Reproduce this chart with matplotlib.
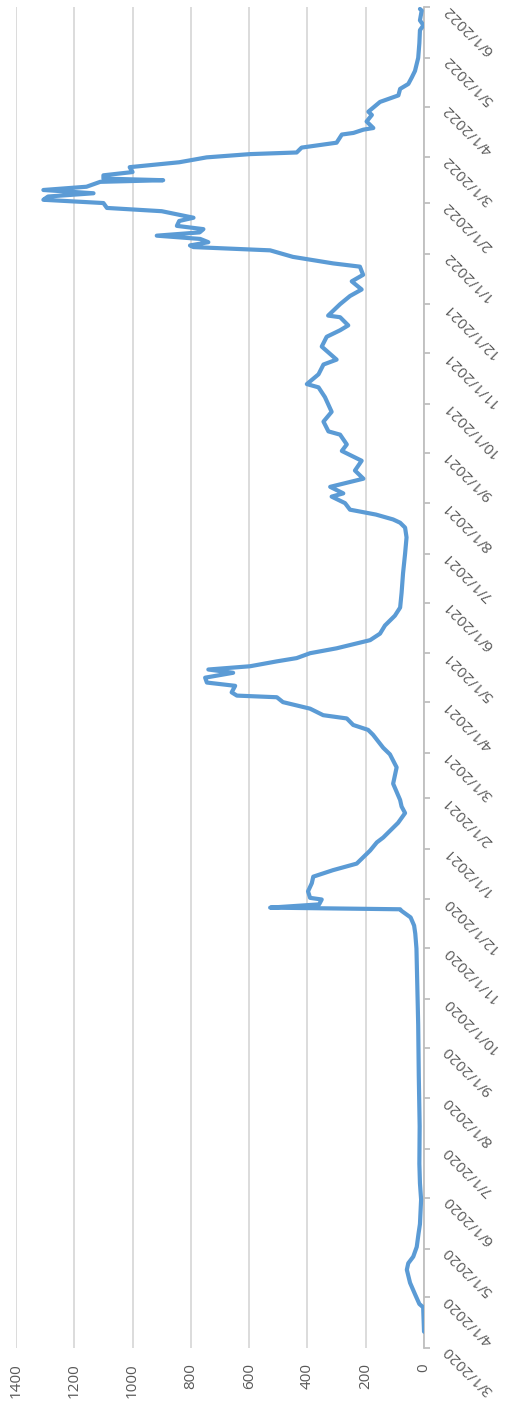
import matplotlib
matplotlib.use("Agg")
import matplotlib.pyplot as plt
import matplotlib.dates as mdates
from matplotlib.ticker import FuncFormatter
import pandas as pd

# Daily count series, read at the turning points of the curve
dates = [
    "2020-03-11", "2020-03-26", "2020-03-28", "2020-04-03", "2020-04-10", "2020-04-18",
    "2020-04-22", "2020-04-26", "2020-05-02", "2020-05-10", "2020-05-16", "2020-05-31",
    "2020-06-10", "2020-06-22", "2020-07-15", "2020-08-15", "2020-09-15", "2020-10-01",
    "2020-10-20", "2020-11-01", "2020-11-10", "2020-11-15", "2020-11-20", "2020-11-24",
    "2020-11-25", "2020-11-26", "2020-11-28", "2020-12-01", "2020-12-02", "2020-12-06",
    "2020-12-11", "2020-12-15", "2020-12-19", "2020-12-23", "2020-12-31",
    "2021-01-05", "2021-01-08", "2021-01-17", "2021-01-23", "2021-01-27", "2021-01-31",
    "2021-02-10", "2021-02-20", "2021-02-28", "2021-03-04", "2021-03-12", "2021-03-15",
    "2021-03-18", "2021-03-22", "2021-03-24", "2021-03-28", "2021-04-01", "2021-04-04",
    "2021-04-05", "2021-04-07", "2021-04-11", "2021-04-13", "2021-04-16", "2021-04-19",
    "2021-04-21", "2021-04-23", "2021-04-26", "2021-04-28", "2021-05-01", "2021-05-04",
    "2021-05-09", "2021-05-13", "2021-05-18", "2021-05-24", "2021-05-29", "2021-06-07",
    "2021-06-19", "2021-07-01", "2021-07-11", "2021-07-17", "2021-07-20", "2021-07-22",
    "2021-07-25", "2021-07-28", "2021-08-01", "2021-08-05", "2021-08-07", "2021-08-11",
    "2021-08-16", "2021-08-21", "2021-08-27", "2021-09-02", "2021-09-06", "2021-09-12",
    "2021-09-14", "2021-09-20", "2021-09-26", "2021-10-05", "2021-10-11", "2021-10-13",
    "2021-10-19", "2021-10-25", "2021-10-28", "2021-11-05", "2021-11-11", "2021-11-15",
    "2021-11-18", "2021-11-23", "2021-11-24", "2021-12-01", "2021-12-06", "2021-12-10",
    "2021-12-15", "2021-12-19", "2021-12-24", "2021-12-26", "2021-12-30",
    "2022-01-03", "2022-01-05", "2022-01-06", "2022-01-08", "2022-01-10", "2022-01-12",
    "2022-01-14", "2022-01-16", "2022-01-18", "2022-01-21", "2022-01-23", "2022-01-27",
    "2022-01-29", "2022-02-01", "2022-02-03", "2022-02-05", "2022-02-07", "2022-02-09",
    "2022-02-11", "2022-02-14", "2022-02-15", "2022-02-16", "2022-02-18", "2022-02-20",
    "2022-02-23", "2022-02-26", "2022-03-01", "2022-03-03", "2022-03-04", "2022-03-07",
    "2022-03-10", "2022-03-15", "2022-03-16", "2022-03-18", "2022-03-19", "2022-03-23",
    "2022-03-27", "2022-03-29", "2022-04-04", "2022-04-08", "2022-04-12", "2022-04-15",
    "2022-04-19", "2022-04-23", "2022-05-01", "2022-05-10", "2022-05-18", "2022-05-21",
    "2022-05-24", "2022-05-30", "2022-05-31",
]
values = [
    0, 3, 16, 31, 48, 59,
    54, 37, 25, 19, 14, 10,
    14, 16, 15, 18, 20, 22,
    24, 26, 30, 34, 46, 77,
    82, 528, 360, 351, 391, 398,
    385, 380, 312, 231, 185,
    162, 140, 89, 65, 77, 82,
    106, 94, 117, 140, 175, 192,
    243, 265, 346, 391, 484, 505,
    642, 660, 648, 745, 751, 655,
    740, 597, 505, 437, 391, 300,
    185, 151, 134, 100, 82, 77,
    72, 65, 60, 65, 82, 106,
    165, 254, 271, 317, 277, 322,
    208, 237, 214, 282, 265, 288,
    328, 345, 317, 340, 362, 402,
    362, 345, 300, 351, 334, 288,
    260, 288, 329, 288, 254, 214,
    248, 209, 220, 312, 450,
    528, 791, 803, 740, 768, 917,
    770, 757, 848, 840, 791, 900,
    1088, 1100, 1306, 1290, 1134, 1306,
    1158, 1111, 895, 1100, 1100, 1000,
    1010, 840, 746, 597, 437, 420,
    300, 282, 242, 208, 174, 197,
    179, 191, 151, 88, 82, 54,
    42, 31, 20, 16, 14, 2,
    14, 8, 14,
]

value_ticks = [0, 200, 400, 600, 800, 1000, 1200, 1400]
date_start = "2020-03-01"
date_end = "2022-06-01"

x_dates = pd.to_datetime(dates)

fig = plt.figure(figsize=(5.06, 14.08), dpi=100)
ax = fig.add_axes([0.0316, 0.0426, 0.8064, 0.9522])

ax.plot(values, x_dates, color="#5B9BD5", lw=3.0,
        solid_joinstyle="round", solid_capstyle="round", zorder=3)

# value axis runs right-to-left, dates run bottom-to-top
ax.set_xlim(1400, 0)
ax.set_ylim(pd.Timestamp(date_start), pd.Timestamp(date_end))

ax.set_xticks(value_ticks)
ax.xaxis.grid(True, color="#D9D9D9", lw=1.3)
ax.yaxis.grid(False)
ax.set_axisbelow(True)

for side in ("top", "left", "bottom"):
    ax.spines[side].set_visible(False)
ax.spines["right"].set_color("#BFBFBF")
ax.spines["right"].set_linewidth(1.3)

ax.yaxis.tick_right()
ax.yaxis.set_major_locator(mdates.MonthLocator())
ax.yaxis.set_major_formatter(FuncFormatter(
    lambda v, pos: (lambda d: f"{d.month}/{d.day}/{d.year}")(mdates.num2date(v))))

font = "Open Sans"
ax.tick_params(axis="x", length=0, pad=11, labelsize=11, labelcolor="#595959")
ax.tick_params(axis="y", length=4, width=1.3, color="#BFBFBF", direction="out",
               pad=12, labelsize=11, labelcolor="#595959")

for lab in ax.get_xticklabels():
    lab.set_rotation(90)
    lab.set_fontfamily(font)
for lab in ax.get_yticklabels():
    lab.set_rotation(135)
    lab.set_rotation_mode("anchor")
    lab.set_ha("right")
    lab.set_va("center")
    lab.set_fontfamily(font)

fig.savefig("out.png", dpi=100)
